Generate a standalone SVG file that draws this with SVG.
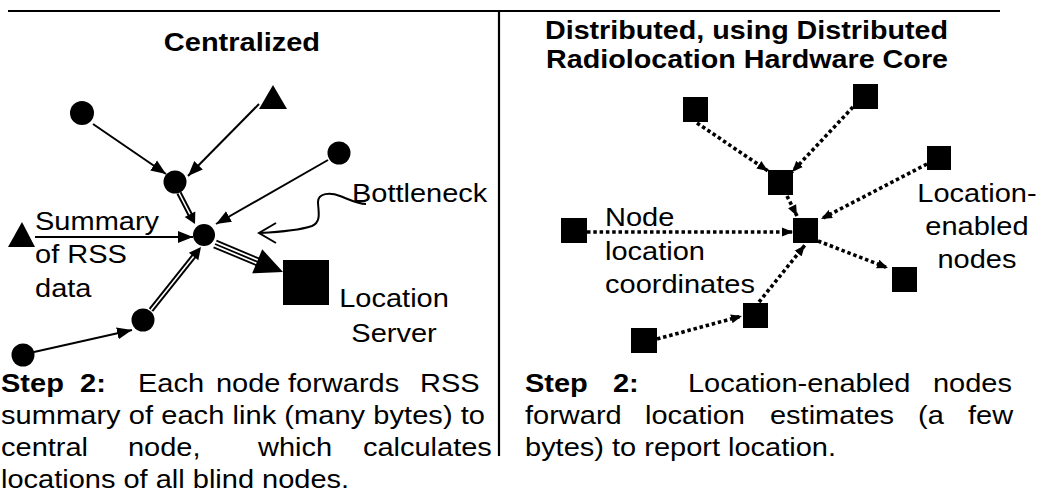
<svg xmlns="http://www.w3.org/2000/svg" width="1045" height="493" viewBox="0 0 1045 493">
<style>
text{font-family:"Liberation Sans",Arial,sans-serif;font-size:25px;fill:#000}
.b{font-weight:bold}
.ln{stroke:#000;stroke-width:2;fill:none}
.dt{stroke:#000;stroke-width:3.6;stroke-dasharray:3.5 2.8;fill:none}
.dbl{stroke:#000;stroke-width:5.5;fill:none}
.dbw{stroke:#fff;stroke-width:1.6;fill:none}
.tri{stroke:#000;stroke-width:1.8;fill:none}
.n{fill:#000}
</style>
<defs>
<marker id="ah" markerUnits="userSpaceOnUse" markerWidth="16" markerHeight="14" viewBox="0 0 16 14" refX="15" refY="7" orient="auto"><path d="M0,1 L15,7 L0,13 z" fill="#000"/></marker>
<marker id="dh" markerUnits="userSpaceOnUse" markerWidth="12" markerHeight="10" viewBox="0 0 12 10" refX="11" refY="5" orient="auto"><path d="M0,0.5 L11,5 L0,9.5 z" fill="#000"/></marker>
</defs>
<rect width="1045" height="493" fill="#fff"/>
<g id="frame">
<line x1="8" y1="11" x2="1000" y2="11" stroke="#000" stroke-width="2.2"/>
<line x1="499" y1="11" x2="499" y2="456" stroke="#000" stroke-width="2.2"/>
</g>
<g id="connectors">
<path class="ln" d="M93,124 L166,174" marker-end="url(#ah)"/>
<path class="ln" d="M259,104 L188,176" marker-end="url(#ah)"/>
<path class="ln" d="M328,160 L216,224" marker-end="url(#ah)"/>
<path class="ln" d="M35,237 L193,237" marker-end="url(#ah)"/>
<path class="ln" d="M34,352 L132,330" marker-end="url(#ah)"/>
<path class="dbl" d="M179,193 L190.9,216"/>
<path class="dbw" d="M179,193 L190.6,215.5"/>
<polygon class="n" points="195,224 184.7,216.9 195.3,211.5"/>
<path class="dbl" d="M151,310 L194.2,255.7"/>
<path class="dbw" d="M151,310 L194.4,255.4"/>
<polygon class="n" points="201,247 198.3,260.2 188.9,252.8"/>
<line class="tri" x1="213.6" y1="247.3" x2="256.6" y2="265.3"/>
<line class="tri" x1="215" y1="244" x2="258" y2="262"/>
<line class="tri" x1="216.4" y1="240.7" x2="259.4" y2="258.7"/>
<polygon class="n" points="283,272 252.2,273.3 262.2,249.3"/>
<path class="ln" stroke-width="1.7" d="M260,233 C280,232 300,230 312,226 C322,222 318,210 318,202 C318,193 330,192 340,196 C350,200 358,204 366,204"/>
<polyline class="ln" stroke-width="1.7" points="276,223 259,233 276,243"/>
<path class="dt" d="M697,123 L768,171" marker-end="url(#dh)"/>
<path class="dt" d="M853,107 L792,172" marker-end="url(#dh)"/>
<path class="dt" d="M787,196 L797,216" marker-end="url(#dh)"/>
<path class="dt" d="M927,164 L821,219" marker-end="url(#dh)"/>
<path class="dt" d="M818,241 L888,268" marker-end="url(#dh)"/>
<path class="dt" d="M587,232 L793,232" marker-end="url(#dh)"/>
<path class="dt" d="M759,302 L805,245" marker-end="url(#dh)"/>
<path class="dt" d="M657,339 L742,316" marker-end="url(#dh)"/>
</g>
<g id="c-topleft"><circle class="n" cx="82" cy="113" r="12"/></g>
<g id="c-relay"><circle class="n" cx="175" cy="182" r="11.5"/></g>
<g id="t-top"><polygon class="n" points="273,85 259,109 287,109"/></g>
<g id="c-right"><circle class="n" cx="339" cy="153" r="11.5"/></g>
<g id="hub"><circle class="n" cx="204" cy="235" r="11"/></g>
<g id="t-left"><polygon class="n" points="22,222 8,247 35,247"/></g>
<g id="c-lower"><circle class="n" cx="143" cy="320" r="11.5"/></g>
<g id="c-bottomleft"><circle class="n" cx="23" cy="355" r="11.5"/></g>
<g id="server"><rect class="n" x="283" y="260" width="46" height="45"/></g>
<g id="sqA"><rect class="n" x="683" y="97" width="25" height="25"/></g>
<g id="sqB"><rect class="n" x="853" y="84" width="25" height="25"/></g>
<g id="sqC"><rect class="n" x="927" y="146" width="24" height="24"/></g>
<g id="sqD"><rect class="n" x="768" y="170" width="25" height="25"/></g>
<g id="sqHub"><rect class="n" x="793" y="218" width="25" height="25"/></g>
<g id="sqE"><rect class="n" x="892" y="267" width="25" height="25"/></g>
<g id="sqF"><rect class="n" x="561" y="218" width="26" height="25"/></g>
<g id="sqG"><rect class="n" x="743" y="303" width="25" height="25"/></g>
<g id="sqH"><rect class="n" x="631" y="328" width="26" height="25"/></g>
<g id="texts" transform="scale(1.16 1)">
<text class="b" x="208.6" y="51" text-anchor="middle">Centralized</text>
<text class="b" x="469.8" y="39" textLength="347.4" lengthAdjust="spacingAndGlyphs">Distributed, using Distributed</text>
<text class="b" x="470.7" y="68" textLength="346.6" lengthAdjust="spacingAndGlyphs">Radiolocation Hardware Core</text>
<text x="303.4" y="202">Bottleneck</text>
<text x="30.2" y="230">Summary</text>
<text x="30.2" y="263">of RSS</text>
<text x="30.2" y="297">data</text>
<text x="339.7" y="307" text-anchor="middle">Location</text>
<text x="339.7" y="342" text-anchor="middle">Server</text>
<text x="842.2" y="202" text-anchor="middle">Location-</text>
<text x="842.2" y="235" text-anchor="middle">enabled</text>
<text x="842.2" y="268" text-anchor="middle">nodes</text>
<text x="521.6" y="226">Node</text>
<text x="521.6" y="260">location</text>
<text x="521.6" y="293">coordinates</text>
<text y="392"><tspan class="b" x="0.9">Step</tspan> <tspan class="b" x="69">2:</tspan> <tspan x="119">Each</tspan> <tspan x="186.2">node</tspan> <tspan x="248.3">forwards</tspan> <tspan x="362.1">RSS</tspan></text>
<text x="0.9" y="424" textLength="417.2" lengthAdjust="spacing">summary of each link (many bytes) to</text>
<text y="456"><tspan x="0.9">central</tspan> <tspan x="110.3">node,</tspan> <tspan x="222.4">which</tspan> <tspan x="312.9">calculates</tspan></text>
<text x="0.9" y="488">locations of all blind nodes.</text>
<text y="392"><tspan class="b" x="452.6">Step</tspan> <tspan class="b" x="528.4">2:</tspan> <tspan x="593.1">Location-enabled</tspan> <tspan x="804.3">nodes</tspan></text>
<text y="424"><tspan x="452.6">forward</tspan> <tspan x="556">location</tspan> <tspan x="663.8">estimates</tspan> <tspan x="791.4">(a</tspan> <tspan x="834.5">few</tspan></text>
<text x="452.6" y="456">bytes) to report location.</text>
</g>
</svg>
